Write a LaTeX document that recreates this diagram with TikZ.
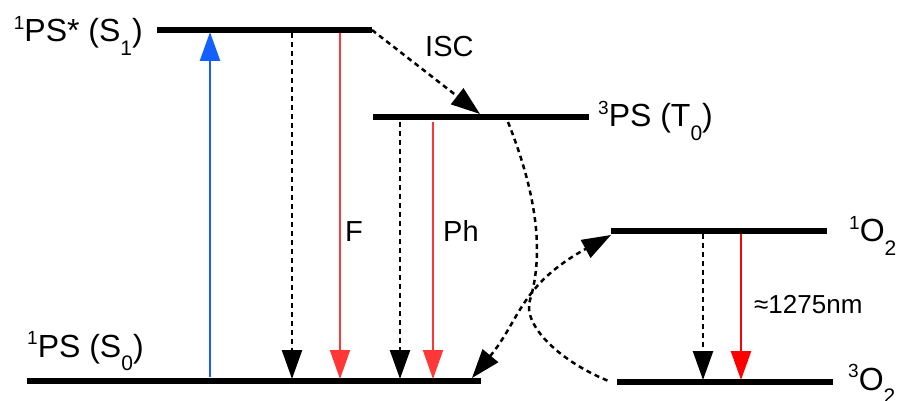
\documentclass[tikz,border=0pt]{standalone}
\usepackage{fontspec}
\setmainfont{Liberation Sans}
\usetikzlibrary{arrows.meta}
\definecolor{exblue}{RGB}{20,95,255}
\definecolor{lred}{RGB}{255,55,55}
\definecolor{sred}{RGB}{255,0,0}
\newcommand\upx[1]{\raisebox{0.4em}{\fontsize{19}{19}\selectfont #1}}
\newcommand\dnx[1]{\raisebox{-0.42em}{\fontsize{21}{21}\selectfont #1}}
\tikzset{
  level/.style={line width=5.5pt},
  tip/.style={-{Triangle[length=29pt,width=20pt]}},
  dtip/.style={{Triangle[length=29pt,width=20pt]}-{Triangle[length=29pt,width=20pt]}},
  dash line/.style={line width=2.5pt, dash pattern=on 5pt off 4pt},
  lab/.style={inner sep=0pt, font=\fontsize{32}{38}\selectfont},
  mlab/.style={inner sep=0pt, font=\fontsize{29}{34}\selectfont},
  smalllab/.style={inner sep=0pt, font=\fontsize{26}{30}\selectfont},
}
\begin{document}
\begin{tikzpicture}[x=1pt,y=-1pt]
\useasboundingbox (0,0) rectangle (898,401);
% level coordinates
\coordinate (s1a) at (157,30);  \coordinate (s1b) at (372,30);
\coordinate (t0a) at (373,117); \coordinate (t0b) at (589,117);
\coordinate (o1a) at (611,231); \coordinate (o1b) at (827,231);
\coordinate (s0a) at (27,381);  \coordinate (s0b) at (481,381);
\coordinate (o3a) at (617,382); \coordinate (o3b) at (833,382);
\draw[level] (s1a) -- (s1b);
\draw[level] (t0a) -- (t0b);
\draw[level] (o1a) -- (o1b);
\draw[level] (s0a) -- (s0b);
\draw[level] (o3a) -- (o3b);
% labels
\node[lab, anchor=base east] (ls1) at (143,42) {\upx{1}PS* (S\dnx{1})};
\node[mlab, anchor=base west] (lisc) at (425,57) {ISC};
\node[lab, anchor=base west] (lt0) at (598,127) {\upx{3}PS (T\dnx{0})};
\node[mlab, anchor=base west] (lf) at (345,242) {F};
\node[mlab, anchor=base west] (lph) at (443,241) {Ph};
\node[lab, anchor=base west] (lo1) at (849,242) {\upx{1}O\dnx{2}};
\node[lab, anchor=base west] (lo3) at (848,390) {\upx{3}O\dnx{2}};
\node[smalllab, anchor=base west] (lnm) at (754,313) {≈1275nm};
\node[lab, anchor=base west] (ls0) at (27,357) {\upx{1}PS (S\dnx{0})};
% arrow end points
\coordinate (ab0) at (210,377); \coordinate (ab1) at (210,32);
\coordinate (k1a) at (292,33);  \coordinate (k1b) at (292,379);
\coordinate (f1a) at (340,33);  \coordinate (f1b) at (340,379);
\coordinate (k2a) at (400,122); \coordinate (k2b) at (400,379);
\coordinate (p1a) at (433,122); \coordinate (p1b) at (433,379);
\coordinate (k3a) at (703,234); \coordinate (k3b) at (703,380);
\coordinate (r3a) at (741,234); \coordinate (r3b) at (741,380);
\coordinate (isc) at (480,114);
\coordinate (ca) at (508,122); \coordinate (cm) at (530,300); \coordinate (ce) at (611,382);
\coordinate (ba) at (472,378); \coordinate (be) at (611,235);
% arrows
\draw[tip, exblue, line width=2.5pt] (ab0) -- (ab1);
\draw[tip, dash line] (k1a) -- (k1b);
\draw[tip, lred, line width=2pt] (f1a) -- (f1b);
\draw[tip, dash line] (k2a) -- (k2b);
\draw[tip, lred, line width=2pt] (p1a) -- (p1b);
\draw[tip, dash line] (k3a) -- (k3b);
\draw[tip, sred, line width=2.5pt] (r3a) -- (r3b);
\draw[tip, dash line] (s1b) -- (isc);
\draw[dash line] (ca) .. controls (535,190) and (545,250) .. (cm)
  .. controls (522,325) and (560,362) .. (ce);
\draw[dtip, dash line] (ba) .. controls (520,320) and (520,285) .. (be);
\end{tikzpicture}
\end{document}
